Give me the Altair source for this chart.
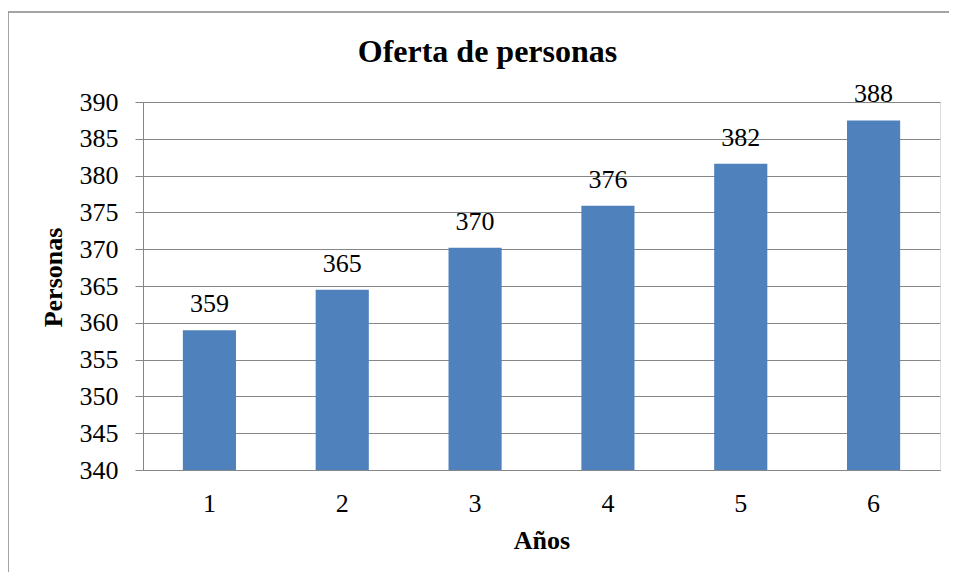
import altair as alt
import pandas as pd

years = ["1", "2", "3", "4", "5", "6"]
personas = [359.0, 364.5, 370.2, 375.9, 381.6, 387.5]
labels = ["359", "365", "370", "376", "382", "388"]
y_ticks = [340, 345, 350, 355, 360, 365, 370, 375, 380, 385, 390]
chart_title = "Oferta de personas"

df = pd.DataFrame({"Año": years, "Personas": personas, "label": labels})

FONT = "Liberation Serif"
GRAY = "#868686"
BLUE = "#4F81BD"

x_axis = alt.Axis(
    title="Años",
    labelAngle=0,
    ticks=False,
    labelPadding=20,
    labelFontSize=26,
    labelFont=FONT,
    labelColor="black",
    domainColor=GRAY,
    titleFont=FONT,
    titleFontSize=26,
    titleFontWeight="bold",
    titleColor="black",
    titleX=398.5,
    titleY=78,
    titleBaseline="alphabetic",
    titleAlign="center",
)
y_axis = alt.Axis(
    title="Personas",
    values=y_ticks,
    tickCount=11,
    labelOverlap=False,
    tickSize=8,
    tickColor=GRAY,
    labelPadding=17,
    labelFontSize=26,
    labelFont=FONT,
    labelColor="black",
    domainColor=GRAY,
    gridColor=GRAY,
    grid=True,
    titleFont=FONT,
    titleFontSize=26,
    titleFontWeight="bold",
    titleColor="black",
    titleX=-82,
    titleY=175,
    titleBaseline="alphabetic",
    titleAlign="center",
    titleAngle=270,
)
x_scale = alt.Scale(paddingInner=0.6, paddingOuter=0.3)
y_scale = alt.Scale(domain=[340, 390], zero=False, nice=False)

border = alt.Chart(pd.DataFrame({"a": [0]})).mark_rect(
    fill="transparent", stroke=GRAY, strokeWidth=1.5
).encode(
    x=alt.value(-135), x2=alt.value(830), y=alt.value(-90), y2=alt.value(520)
)

title = alt.Chart(pd.DataFrame({"t": [chart_title]})).mark_text(
    font=FONT, fontSize=32, fontWeight="bold", color="black",
    baseline="alphabetic", align="center"
).encode(
    x=alt.value(344.5), y=alt.value(-40), text="t:N"
)

bars = alt.Chart(df).mark_bar(color=BLUE, clip=True).encode(
    x=alt.X("Año:N", sort=years, scale=x_scale, axis=x_axis),
    y=alt.Y("Personas:Q", scale=y_scale, axis=y_axis),
)

text = alt.Chart(df).mark_text(
    font=FONT, fontSize=26, color="black", baseline="alphabetic", dy=-18
).encode(
    x=alt.X("Año:N", sort=years, scale=x_scale, axis=x_axis),
    y=alt.Y("Personas:Q", scale=y_scale, axis=y_axis),
    text="label:N",
)

chart = alt.layer(border, title, bars, text).properties(
    width=797,
    height=368,
    autosize=alt.AutoSizeParams(type="none"),
    padding={"left": 135, "top": 94, "right": 9, "bottom": 102},
).configure_view(stroke=None).configure(background="white")

chart.save("out.html", embed_options={"renderer": "svg", "actions": False})
